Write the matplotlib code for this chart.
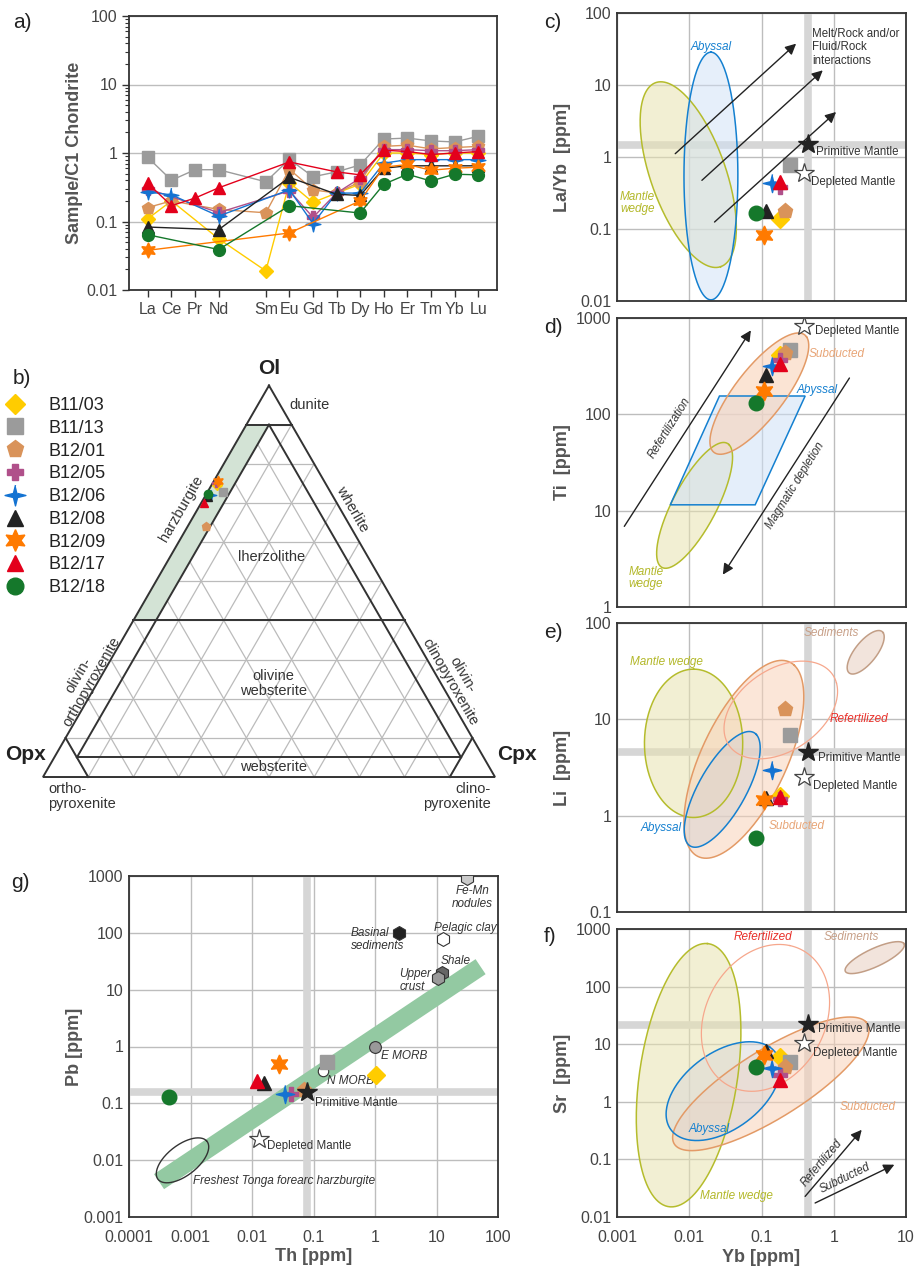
import numpy as np
import matplotlib
matplotlib.use('Agg')
import matplotlib.pyplot as plt
from matplotlib.lines import Line2D
from matplotlib.ticker import FixedLocator, FixedFormatter, NullLocator, LogLocator, NullFormatter

plt.rcParams['font.family'] = ['Liberation Sans', 'DejaVu Sans']

# ---------------- data ----------------
samples = ['B11/03', 'B11/13', 'B12/01', 'B12/05', 'B12/06', 'B12/08', 'B12/09', 'B12/17', 'B12/18']
colors = ['#FFCC00', '#9B9B9B', '#D9935A', '#B0508A', '#1473D2', '#222222', '#FF7A00', '#E3001B', '#15782B']
_ang = np.deg2rad(np.arange(8) * 45 + 90)
_rad = np.array([1, 0.28] * 4)
STAR4 = list(zip(_rad * np.cos(_ang), _rad * np.sin(_ang)))
markers = ['D', 's', 'p', 'P', STAR4, '^', (6, 1, 0), '^', 'o']
msize_scale = [0.85, 0.95, 1.05, 1.0, 1.25, 1.0, 1.3, 1.0, 1.0]

ree_all = ['La', 'Ce', 'Pr', 'Nd', 'Pm', 'Sm', 'Eu', 'Gd', 'Tb', 'Dy', 'Ho', 'Er', 'Tm', 'Yb', 'Lu']
ree_shown = ['La', 'Ce', 'Pr', 'Nd', 'Sm', 'Eu', 'Gd', 'Tb', 'Dy', 'Ho', 'Er', 'Tm', 'Yb', 'Lu']
n = np.nan
ree_B11_03 = [0.11, 0.20, n, 0.056, 0.019, 0.37, 0.19, 0.26, 0.35, 1.0, 1.0, 0.95, 1.0, 1.0]
ree_B11_13 = [0.86, 0.40, 0.57, 0.57, 0.38, 0.81, 0.45, 0.53, 0.67, 1.6, 1.65, 1.5, 1.45, 1.75]
ree_B12_01 = [0.16, 0.20, n, 0.15, 0.134, 0.58, 0.29, 0.26, 0.38, 1.25, 1.3, 1.15, 1.2, 1.25]
ree_B12_05 = [0.30, n, n, 0.135, n, 0.28, 0.115, 0.26, 0.43, 1.12, 1.12, 1.08, 1.08, 1.12]
ree_B12_06 = [0.27, 0.245, n, 0.12, n, 0.29, 0.093, 0.26, 0.26, 0.71, 0.8, 0.8, 0.8, 0.8]
ree_B12_08 = [0.083, n, n, 0.076, n, 0.44, n, 0.25, 0.24, 0.6, 0.65, 0.65, 0.65, 0.65]
ree_B12_09 = [0.038, n, n, n, n, 0.068, n, n, 0.20, 0.62, 0.68, 0.56, 0.60, 0.62]
ree_B12_17 = [0.36, 0.17, 0.22, 0.31, n, 0.74, n, 0.53, 0.48, 1.1, 1.05, 0.95, 1.0, 1.05]
ree_B12_18 = [0.064, n, n, 0.039, n, 0.17, n, n, 0.133, 0.35, 0.49, 0.39, 0.49, 0.48]
ree_values = [ree_B11_03, ree_B11_13, ree_B12_01, ree_B12_05, ree_B12_06,
              ree_B12_08, ree_B12_09, ree_B12_17, ree_B12_18]

# ternary modal composition (fractions)
tern_ol = [0.745, 0.728, 0.642, 0.75, 0.72, 0.715, 0.755, 0.70, 0.723]
tern_cpx = [0.012, 0.035, 0.039, 0.008, 0.012, 0.008, 0.010, 0.006, 0.004]

# trace elements (ppm)
yb = [0.18, 0.25, 0.21, 0.18, 0.139, 0.115, 0.11, 0.18, 0.085]
la_yb = [0.139, 0.78, 0.18, 0.38, 0.43, 0.178, 0.083, 0.45, 0.167]
ti = [417, 461, 430, 363, 315, 258, 175, 336, 132]
li = [1.6, 6.8, 12.7, 1.5, 3.0, 1.54, 1.45, 1.55, 0.58]
sr = [6.1, 5.0, 4.1, 2.9, 3.9, 7.5, 6.5, 2.4, 4.1]
th = [1.05, 0.165, 0.0705, 0.0433, 0.0345, 0.0157, 0.0279, 0.0119, 0.00045]
pb = [0.32, 0.54, 0.172, 0.144, 0.144, 0.23, 0.49, 0.25, 0.128]

# reference mantle compositions
pm = {'yb': 0.447, 'la_yb': 1.5, 'li': 4.6, 'sr': 22.0, 'th': 0.0798, 'pb': 0.156}
dm = {'yb': 0.39, 'la_yb': 0.6, 'ti': 826, 'li': 2.54, 'sr': 10.4, 'th': 0.0132, 'pb': 0.024}
band_yb = 0.44
band_la_yb = 1.45
band_li = 4.55
band_sr = 21.5
band_th = 0.0795
band_pb = 0.156

# reference fields: [log10 x centre, log10 y centre, semi-major, semi-minor (decades), angle deg]
c_wedge = [-2.014, -0.245, 1.355, 0.52, -70.6]
c_abyssal = [-1.70, -0.264, 1.72, 0.373, 90]
d_subducted = [-1.03, 2.215, 0.88, 0.30, 42]
d_wedge = [-1.926, 1.055, 0.79, 0.28, 53]
d_abyssal_x = [0.00546, 0.0817, 0.402, 0.0262]
d_abyssal_y = [11.5, 11.5, 155, 155]
e_sediments = [0.442, 1.696, 0.316, 0.13, 39.9]
e_refert = [-0.733, 1.097, 0.82, 0.45, 20]
e_subducted = [-1.244, 0.585, 1.2, 0.55, 54.4]
e_wedge = [-1.94, 0.751, 0.77, 0.68, 90]
e_abyssal = [-1.544, 0.273, 0.74, 0.30, 50.3]
f_wedge = [-2.009, 0.462, 2.30, 0.68, 83.5]
f_refert = [-0.945, 1.457, 1.3, 0.85, 75]
f_sediments = [0.567, 2.503, 0.472, 0.15, 31.4]
f_subducted = [-0.871, 0.312, 1.7, 0.55, 39.4]
f_abyssal = [-1.53, 0.185, 1.0, 0.6, 50]
g_tonga = [-3.13, -2.003, 0.52, 0.26, 41.4]
g_trend_th = [0.000308, 52.1]
g_trend_pb = [0.00419, 25.4]

# other reservoirs in Th-Pb
res_names = ['Basinal\nsediments', 'Pelagic clay', 'Shale', 'Upper\ncrust', 'Fe-Mn\nnodules']
res_th = [2.5, 12.8, 12.4, 10.5, 30.8]
res_pb = [100, 77, 19.9, 15.8, 910]
res_fc = ['#222222', '#FFFFFF', '#666666', '#9A9A9A', '#CACACA']
morb_names = ['N MORB', 'E MORB']
morb_th = [0.142, 1.0]
morb_pb = [0.376, 1.0]
morb_fc = ['#FFFFFF', '#999999']

# ---------------- styling helpers ----------------
W, H = 915, 1269
fig = plt.figure(figsize=(W / 100, H / 100), dpi=100)
TXT = '#444444'
GRID = '#BDBDBD'
BAND = '#D6D6D6'


def px_axes(x0, y0, x1, y1):
    return fig.add_axes([x0 / W, 1 - y1 / H, (x1 - x0) / W, (y1 - y0) / H])


def style_log(ax, xl, yl, xlabels, ylabels):
    ax.set_xscale('log')
    ax.set_yscale('log')
    ax.set_xlim(*xl)
    ax.set_ylim(*yl)
    xt = [10.0 ** k for k in range(int(round(np.log10(xl[0]))), int(round(np.log10(xl[1]))) + 1)]
    yt = [10.0 ** k for k in range(int(round(np.log10(yl[0]))), int(round(np.log10(yl[1]))) + 1)]
    ax.xaxis.set_major_locator(FixedLocator(xt))
    ax.yaxis.set_major_locator(FixedLocator(yt))
    ax.xaxis.set_minor_locator(NullLocator())
    ax.yaxis.set_minor_locator(NullLocator())
    if xlabels:
        ax.xaxis.set_major_formatter(FixedFormatter([f'{v:g}' for v in xt]))
    else:
        ax.xaxis.set_major_formatter(NullFormatter())
    ax.yaxis.set_major_formatter(FixedFormatter([f'{v:g}' for v in yt]))
    ax.tick_params(length=0, labelsize=11.5, colors=TXT, pad=4)
    ax.tick_params(axis='x', pad=9)
    ax.grid(True, color=GRID, lw=1.0)
    ax.set_axisbelow(True)
    for s in ax.spines.values():
        s.set_color('#333333')
        s.set_linewidth(1.3)


def ellipse(ax, p, ec, fc=None, lw=1.1, alpha=0.55, z=2):
    cx, cy, a, b, ang = p
    t = np.linspace(0, 2 * np.pi, 240)
    r = np.deg2rad(ang)
    x = cx + a * np.cos(t) * np.cos(r) - b * np.sin(t) * np.sin(r)
    y = cy + a * np.cos(t) * np.sin(r) + b * np.sin(t) * np.cos(r)
    X, Y = 10 ** x, 10 ** y
    if fc is not None:
        ax.fill(X, Y, fc=fc, alpha=alpha, lw=0, zorder=z)
    ax.plot(X, Y, color=ec, lw=lw, zorder=z + 0.1)


def bands(ax, xv, yv):
    if xv is not None:
        ax.axvline(xv, color=BAND, lw=5.5, zorder=1)
    if yv is not None:
        ax.axhline(yv, color=BAND, lw=5.5, zorder=1)


def samples_scatter(ax, xs, ys, ms=10.5):
    for i in range(len(samples)):
        ax.plot(xs[i], ys[i], linestyle='none', marker=markers[i], color=colors[i],
                markeredgecolor=colors[i], ms=ms * msize_scale[i], zorder=5)


def arrow(ax, x0, y0, x1, y1):
    ax.annotate('', xy=(x1, y1), xytext=(x0, y0),
                arrowprops=dict(arrowstyle='-|>', color='#222222', lw=1.0,
                                mutation_scale=16, shrinkA=0, shrinkB=0), zorder=6)


def ref_stars(ax, pmxy=None, dmxy=None):
    if pmxy is not None:
        ax.plot(*pmxy, marker='*', ms=15, color='#222222', mec='#222222', ls='none', zorder=6)
    if dmxy is not None:
        ax.plot(*dmxy, marker='*', ms=15, color='white', mec='#444444', mew=0.9, ls='none', zorder=6)


WEDGE_E, WEDGE_F = '#B5BC2C', '#E8E2B0'
ABY_E, ABY_F = '#1480D0', '#CFE0F6'
SUB_E, SUB_F = '#E39A66', '#F9D2B8'
REF_E = '#F6A78C'
SED_E, SED_F = '#C29E86', '#E8CFC0'
C_WEDGE_T, C_ABY_T, C_SUB_T, C_REF_T, C_SED_T = '#B3B82A', '#1580D0', '#E8A577', '#E8302A', '#C8A088'
ann = dict(fontsize=8.3, color='#333333')
itl = dict(fontsize=8.5, style='italic')

# ---------------- panel a ----------------
axa = px_axes(129, 16, 497, 290)
axa.set_yscale('log')
axa.set_ylim(0.01, 100)
pos_all = np.arange(len(ree_all))
pos = np.array([pos_all[ree_all.index(e)] for e in ree_shown])
axa.set_xlim(pos[0] - 0.8, pos[-1] + 0.8)
for i in range(len(samples)):
    v = np.array(ree_values[i], dtype=float)
    m = ~np.isnan(v)
    axa.plot(pos[m], v[m], color=colors[i], lw=1.0, marker=markers[i],
             ms=8.5 * msize_scale[i], mec=colors[i], zorder=3 + i * 0.1)
axa.set_xticks(pos)
axa.set_xticklabels(ree_shown)
axa.yaxis.set_major_locator(FixedLocator([0.01, 0.1, 1, 10, 100]))
axa.yaxis.set_major_formatter(FixedFormatter(['0.01', '0.1', '1', '10', '100']))
axa.yaxis.set_minor_locator(LogLocator(base=10, subs=np.arange(2, 10)))
axa.yaxis.set_minor_formatter(NullFormatter())
axa.tick_params(axis='both', which='major', length=5, width=1, colors='#333333', labelcolor=TXT, labelsize=11.5)
axa.tick_params(axis='y', which='minor', length=3, width=0.8, colors='#333333')
axa.grid(True, axis='y', which='major', color=GRID, lw=1.0)
axa.set_axisbelow(True)
for s in axa.spines.values():
    s.set_color('#333333')
    s.set_linewidth(1.3)
axa.set_ylabel('Sample/C1 Chondrite', fontsize=13, fontweight='bold', color='#555555')
axa.yaxis.set_label_coords(-0.125, 0.5)

# ---------------- panel b (ternary) ----------------
axb = fig.add_axes([0, 1 - 860 / H, 500 / W, 530 / H])
axb.set_xlim(-0.0951, 1.0111)
axb.set_ylim(-0.1836, 0.9889)
axb.axis('off')
S3 = np.sqrt(3) / 2


def txy(ol, cpx):
    ol = np.asarray(ol, dtype=float)
    cpx = np.asarray(cpx, dtype=float)
    return cpx + ol / 2, ol * S3


# gray 10 % grid
for k in range(1, 10):
    f = k / 10
    x, y = txy([f, f], [0, 1 - f])            # constant Ol
    axb.plot(x, y, color='#BBBBBB', lw=0.9, zorder=1)
    x, y = txy([0, 1 - f], [f, f])            # constant Cpx
    axb.plot(x, y, color='#BBBBBB', lw=0.9, zorder=1)
    x, y = txy([0, 1 - f], [1 - f, 0])        # constant Opx
    axb.plot(x, y, color='#BBBBBB', lw=0.9, zorder=1)
# harzburgite field
hx, hy = txy([0.9, 0.9, 0.4, 0.4], [0.0, 0.05, 0.05, 0.0])
axb.fill(hx, hy, fc='#D3E3D5', ec='none', zorder=1.5)
K = '#333333'
LW = 1.4
segs = [
    ([1, 0, 0, 1], [0, 0, 1, 0]),                # outer triangle
    ([0.9, 0.9], [0, 0.1]),                      # 90 % Ol
    ([0.4, 0.4], [0, 0.6]),                      # 40 % Ol
    ([0.9, 0.05], [0.05, 0.05]),                 # 5 % Cpx
    ([0.9, 0.05], [0.05, 0.90]),                 # 5 % Opx
    ([0.05, 0.05], [0.05, 0.90]),                # 5 % Ol
    ([0.1, 0.0], [0.0, 0.1]),                    # 90 % Opx
    ([0.1, 0.0], [0.9, 0.9]),                    # 90 % Cpx
]
for ol_s, cpx_s in segs:
    x, y = txy(ol_s, cpx_s)
    axb.plot(x, y, color=K, lw=LW, zorder=2, solid_joinstyle='miter')
bx, by = txy(tern_ol, tern_cpx)
for i in range(len(samples)):
    axb.plot(bx[i], by[i], ls='none', marker=markers[i], color=colors[i], mec=colors[i],
             ms=6 * msize_scale[i], zorder=4)
tk = dict(fontsize=10.5, color='#333333')
axb.text(0.5, 0.882, 'Ol', ha='center', va='bottom', fontsize=15, fontweight='bold', color='#222222')
axb.text(0.007, 0.05, 'Opx', ha='right', va='center', fontsize=15, fontweight='bold', color='#222222')
axb.text(1.005, 0.05, 'Cpx', ha='left', va='center', fontsize=15, fontweight='bold', color='#222222')
axb.text(0.545, 0.823, 'dunite', ha='left', va='center', **tk)
axb.text(0.685, 0.593, 'wherlite', ha='center', va='center', rotation=-60, **tk)
axb.text(0.305, 0.593, 'harzburgite', ha='center', va='center', rotation=60, **tk)
axb.text(0.505, 0.487, 'lherzolithe', ha='center', va='center', **tk)
axb.text(0.51, 0.207, 'olivine\nwebsterite', ha='center', va='center', linespacing=1.05, **tk)
axb.text(0.51, 0.022, 'websterite', ha='center', va='center', **tk)
axb.text(0.093, 0.218, 'olivin-\northopyroxenite', ha='center', va='center', rotation=60,
         linespacing=1.05, **tk)
axb.text(0.915, 0.218, 'olivin-\nclinopyroxenite', ha='center', va='center', rotation=-60,
         linespacing=1.05, **tk)
axb.text(0.012, -0.012, 'ortho-\npyroxenite', ha='left', va='top', linespacing=1.05, **tk)
axb.text(0.99, -0.012, 'clino-\npyroxenite', ha='right', va='top', multialignment='right',
         linespacing=1.05, **tk)
handles = [Line2D([], [], ls='none', marker=markers[i], color=colors[i], mec=colors[i],
                  ms=12 * msize_scale[i]) for i in range(len(samples))]
fig.legend(handles, samples, loc='upper left', bbox_to_anchor=(6 / W, 1 - 397 / H),
           frameon=False, fontsize=13, borderpad=0, borderaxespad=0, handlelength=1.0,
           handletextpad=1.35, labelspacing=0.32, labelcolor='#222222')

# ---------------- panel c ----------------
axc = px_axes(617, 13, 906, 301)
style_log(axc, (0.001, 10), (0.01, 100), False, True)
bands(axc, band_yb, band_la_yb)
ellipse(axc, c_wedge, WEDGE_E, WEDGE_F)
ellipse(axc, c_abyssal, ABY_E, ABY_F, alpha=0.5)
arrow(axc, 10 ** -2.194, 10 ** 0.046, 10 ** -0.521, 10 ** 1.574)
arrow(axc, 10 ** -1.825, 10 ** -0.324, 10 ** -0.152, 10 ** 1.204)
arrow(axc, 10 ** -1.65, 10 ** -0.903, 10 ** 0.032, 10 ** 0.625)
samples_scatter(axc, yb, la_yb)
ref_stars(axc, (pm['yb'], pm['la_yb']), (dm['yb'], dm['la_yb']))
axc.text(0.5, 62, 'Melt/Rock and/or\nFluid/Rock\ninteractions', ha='left', va='top', linespacing=1.15, **ann)
axc.text(0.56, 1.18, 'Primitive Mantle', ha='left', va='center', **ann)
axc.text(0.49, 0.45, 'Depleted Mantle', ha='left', va='center', **ann)
axc.text(0.02, 34, 'Abyssal', ha='center', va='center', color=C_ABY_T, **itl)
axc.text(0.0011, 0.23, 'Mantle\nwedge', ha='left', va='center', color=C_WEDGE_T, linespacing=1.1, **itl)
axc.set_ylabel('La/Yb  [ppm]', fontsize=13, fontweight='bold', color='#555555')
axc.yaxis.set_label_coords(-0.16, 0.5)

# ---------------- panel d ----------------
axd = px_axes(617, 318, 906, 607)
style_log(axd, (0.001, 10), (1, 1000), False, True)
ellipse(axd, d_wedge, WEDGE_E, WEDGE_F)
axd.fill(d_abyssal_x, d_abyssal_y, fc=ABY_F, alpha=0.55, lw=0, zorder=2)
axd.fill(d_abyssal_x, d_abyssal_y, fc='none', ec=ABY_E, lw=1.1, zorder=2.1)
ellipse(axd, d_subducted, SUB_E, SUB_F, alpha=0.6)
arrow(axd, 10 ** -2.899, 10 ** 0.837, 10 ** -1.147, 10 ** 2.872)
arrow(axd, 10 ** 0.217, 10 ** 2.377, 10 ** -1.535, 10 ** 0.336)
samples_scatter(axd, yb, ti)
ref_stars(axd, None, (dm['yb'], dm['ti']))
axd.text(0.55, 730, 'Depleted Mantle', ha='left', va='center', **ann)
axd.text(0.45, 425, 'Subducted', ha='left', va='center', color=C_SUB_T, **itl)
axd.text(0.31, 180, 'Abyssal', ha='left', va='center', color=C_ABY_T, **itl)
axd.text(0.00145, 2.0, 'Mantle\nwedge', ha='left', va='center', color=C_WEDGE_T, linespacing=1.1, **itl)
axd.text(10 ** -2.27, 10 ** 1.86, 'Refertilization', ha='center', va='center', rotation=58,
         fontsize=8.3, style='italic', color='#333333')
axd.text(10 ** -0.53, 10 ** 1.26, 'Magmatic depletion', ha='center', va='center', rotation=58,
         fontsize=8.3, style='italic', color='#333333')
axd.set_ylabel('Ti  [ppm]', fontsize=13, fontweight='bold', color='#555555')
axd.yaxis.set_label_coords(-0.16, 0.5)

# ---------------- panel e ----------------
axe = px_axes(617, 623, 906, 912)
style_log(axe, (0.001, 10), (0.1, 100), False, True)
bands(axe, band_yb, band_li)
ellipse(axe, e_wedge, WEDGE_E, WEDGE_F)
ellipse(axe, e_subducted, SUB_E, SUB_F, alpha=0.55)
ellipse(axe, e_abyssal, ABY_E, '#D9D2D0', alpha=0.55)
ellipse(axe, e_refert, REF_E, None, lw=0.9)
ellipse(axe, e_sediments, SED_E, SED_F)
samples_scatter(axe, yb, li)
ref_stars(axe, (pm['yb'], pm['li']), (dm['yb'], dm['li']))
axe.text(0.61, 4.0, 'Primitive Mantle', ha='left', va='center', **ann)
axe.text(0.52, 2.03, 'Depleted Mantle', ha='left', va='center', **ann)
axe.text(0.38, 79, 'Sediments', ha='left', va='center', color=C_SED_T, **itl)
axe.text(0.0015, 39, 'Mantle wedge', ha='left', va='center', color=C_WEDGE_T, **itl)
axe.text(0.89, 10, 'Refertilized', ha='left', va='center', color=C_REF_T, **itl)
axe.text(0.0021, 0.74, 'Abyssal', ha='left', va='center', color=C_ABY_T, **itl)
axe.text(0.125, 0.78, 'Subducted', ha='left', va='center', color=C_SUB_T, **itl)
axe.set_ylabel('Li  [ppm]', fontsize=13, fontweight='bold', color='#555555')
axe.yaxis.set_label_coords(-0.16, 0.5)

# ---------------- panel f ----------------
axf = px_axes(617, 929, 906, 1217)
style_log(axf, (0.001, 10), (0.01, 1000), True, True)
bands(axf, band_yb, band_sr)
ellipse(axf, f_wedge, WEDGE_E, WEDGE_F)
ellipse(axf, f_subducted, SUB_E, SUB_F, alpha=0.55)
ellipse(axf, f_abyssal, ABY_E, '#D9D6D6', alpha=0.5)
ellipse(axf, f_refert, REF_E, None, lw=0.9)
ellipse(axf, f_sediments, SED_E, SED_F)
arrow(axf, 10 ** -0.396, 10 ** -1.642, 10 ** 0.387, 10 ** -0.486)
arrow(axf, 10 ** -0.258, 10 ** -1.757, 10 ** 0.839, 10 ** -1.092)
samples_scatter(axf, yb, sr)
ref_stars(axf, (pm['yb'], pm['sr']), (dm['yb'], dm['sr']))
axf.text(0.61, 18.5, 'Primitive Mantle', ha='left', va='center', **ann)
axf.text(0.52, 7.0, 'Depleted Mantle', ha='left', va='center', **ann)
axf.text(0.041, 716, 'Refertilized', ha='left', va='center', color=C_REF_T, **itl)
axf.text(0.72, 736, 'Sediments', ha='left', va='center', color=C_SED_T, **itl)
axf.text(1.22, 0.81, 'Subducted', ha='left', va='center', color=C_SUB_T, **itl)
axf.text(0.0098, 0.34, 'Abyssal', ha='left', va='center', color=C_ABY_T, **itl)
axf.text(0.0139, 0.0228, 'Mantle wedge', ha='left', va='center', color=C_WEDGE_T, **itl)
axf.text(10 ** -0.16, 10 ** -1.06, 'Refertilized', ha='center', va='center', rotation=50,
         fontsize=8.3, style='italic', color='#333333')
axf.text(10 ** 0.16, 10 ** -1.33, 'Subducted', ha='center', va='center', rotation=26,
         fontsize=8.3, style='italic', color='#333333')
axf.set_ylabel('Sr  [ppm]', fontsize=13, fontweight='bold', color='#555555')
axf.yaxis.set_label_coords(-0.16, 0.5)
axf.set_xlabel('Yb [ppm]', fontsize=13, fontweight='bold', color='#555555')
axf.xaxis.set_label_coords(0.5, -0.11)

# ---------------- panel g ----------------
axg = px_axes(129, 876, 498, 1217)
style_log(axg, (0.0001, 100), (0.001, 1000), True, True)
bands(axg, band_th, band_pb)
axg.plot(g_trend_th, g_trend_pb, color='#93C9A2', lw=13, solid_capstyle='butt', zorder=2)
ellipse(axg, g_tonga, '#333333', None, lw=1.0)
for i in range(len(res_names)):
    axg.plot(res_th[i], res_pb[i], ls='none', marker='h', ms=10, color=res_fc[i], mec='#333333',
             mew=0.8, zorder=5)
for i in range(len(morb_names)):
    axg.plot(morb_th[i], morb_pb[i], ls='none', marker='o', ms=7.5 if i == 0 else 8.5,
             color=morb_fc[i], mec='#333333', mew=0.8, zorder=5)
samples_scatter(axg, th, pb)
ref_stars(axg, (pm['th'], pm['pb']), (dm['th'], dm['pb']))
gl = dict(itl, color='#333333')
axg.text(38, 420, 'Fe-Mn\nnodules', ha='center', va='center', linespacing=1.05, **gl)
axg.text(3.0, 77, 'Basinal\nsediments', ha='right', va='center', multialignment='left',
         linespacing=1.05, **gl)
axg.text(9.06, 120, 'Pelagic clay', ha='left', va='center', **gl)
axg.text(11.9, 32, 'Shale', ha='left', va='center', **gl)
axg.text(8.2, 14.4, 'Upper\ncrust', ha='right', va='center', multialignment='left',
         linespacing=1.05, **gl)
axg.text(1.25, 0.69, 'E MORB', ha='left', va='center', **gl)
axg.text(0.165, 0.25, 'N MORB', ha='left', va='center', **gl)
axg.text(0.106, 0.1, 'Primitive Mantle', ha='left', va='center', **ann)
axg.text(0.0173, 0.018, 'Depleted Mantle', ha='left', va='center', **ann)
axg.text(0.0011, 0.00435, 'Freshest Tonga forearc harzburgite', ha='left', va='center', **gl)
axg.set_ylabel('Pb [ppm]', fontsize=13, fontweight='bold', color='#555555')
axg.yaxis.set_label_coords(-0.125, 0.5)
axg.set_xlabel('Th [ppm]', fontsize=13, fontweight='bold', color='#555555')
axg.xaxis.set_label_coords(0.5, -0.09)

# ---------------- panel letters ----------------
for lab, (px, py) in {'a)': (22, 22), 'b)': (22, 379), 'c)': (553, 22), 'd)': (553, 328),
                      'e)': (553, 632), 'f)': (550, 937), 'g)': (20, 882)}.items():
    fig.text(px / W, 1 - py / H, lab, ha='center', va='center', fontsize=15, color='#222222')

fig.savefig('out.png', dpi=100, facecolor='white')
